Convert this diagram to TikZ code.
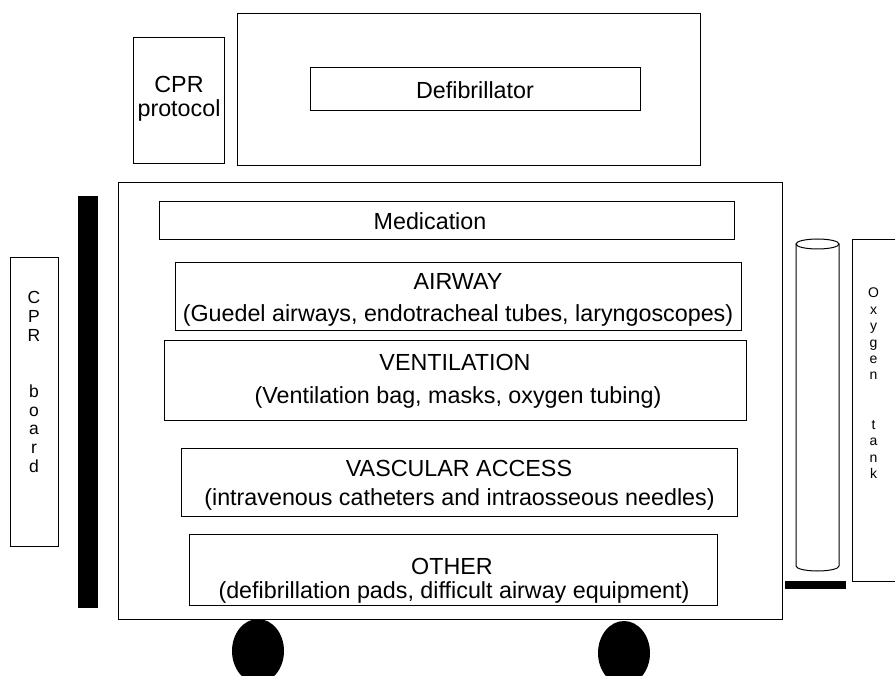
\documentclass[tikz,border=0pt]{standalone}
\usepackage{fontspec}
\setmainfont{Liberation Sans}
\usetikzlibrary{shapes.geometric}
\begin{document}
\begin{tikzpicture}[x=1pt,y=-1pt,
  box/.style={draw, line width=1pt, rectangle, inner sep=0pt},
  bar/.style={fill=black, draw=none, rectangle, inner sep=0pt},
  wheel/.style={ellipse, fill=black, draw=none, inner sep=0pt, minimum width=52pt, minimum height=64pt},
  lbl/.style={anchor=base, inner sep=0pt, font=\fontsize{23.3}{27}\selectfont},
  vlbl/.style={anchor=base, inner sep=0pt, font=\fontsize{17.5}{20}\selectfont},
  olbl/.style={anchor=base, inner sep=0pt, font=\fontsize{14}{16}\selectfont}]
\clip (0,0) rectangle (895,676);
\fill[white] (0,0) rectangle (895,676);

% top items
\node[box, minimum width=91pt, minimum height=126pt] (proto) at (178.5,101) {};
\node[lbl] (protoA) at (179,93) {CPR};
\node[lbl] (protoB) at (179,117) {protocol};
\node[box, minimum width=463pt, minimum height=152pt] (defout) at (468.5,90) {};
\node[box, minimum width=330pt, minimum height=43pt] (defib) at (475,89.5) {};
\node[lbl] (defibT) at (475,99) {Defibrillator};

% cart
\node[box, minimum width=664pt, minimum height=436pt] (cart) at (450,401) {};
\node[box, minimum width=575pt, minimum height=38pt] (med) at (446.5,221) {};
\node[lbl] (medT) at (430,230) {Medication};
\node[box, minimum width=566pt, minimum height=68pt] (air) at (458,297) {};
\node[lbl] (airA) at (458,290) {AIRWAY};
\node[lbl] (airB) at (458,322) {(Guedel airways, endotracheal tubes, laryngoscopes)};
\node[box, minimum width=582pt, minimum height=80pt] (vent) at (455,381) {};
\node[lbl] (ventA) at (455,371) {VENTILATION};
\node[lbl] (ventB) at (458,404) {(Ventilation bag, masks, oxygen tubing)};
\node[box, minimum width=556pt, minimum height=67pt] (vasc) at (459,482.5) {};
\node[lbl] (vascA) at (459,476) {VASCULAR ACCESS};
\node[lbl] (vascB) at (459.5,505) {(intravenous catheters and intraosseous needles)};
\node[box, minimum width=528pt, minimum height=71pt] (other) at (453,569.5) {};
\node[lbl] (otherA) at (452,574) {OTHER};
\node[lbl] (otherB) at (454,598) {(defibrillation pads, difficult airway equipment)};

% left side
\node[bar, minimum width=20pt, minimum height=412pt] (lbar) at (88,402) {};
\node[box, minimum width=48pt, minimum height=288pt] (board) at (34,402) {};
\foreach \c/\i in {C/0,P/1,R/2,b/5,o/6,a/7,r/8,d/9}
  \node[vlbl] (bd\i) at (34,304+\i*18.7) {\c};

% right side
\draw[line width=1pt] (796,244) -- (796,566)
  arc[start angle=180, end angle=360, x radius=21.5pt, y radius=5pt] -- (839,244);
\draw[line width=1pt] (817.5,244) ellipse [x radius=21.5pt, y radius=5pt];
\node[bar, minimum width=61pt, minimum height=8pt] (rbar) at (815.5,585) {};
\node[box, minimum width=46pt, minimum height=341pt] (oxy) at (875,410.5) {};
\foreach \c/\i in {O/0,x/1,y/2,g/3,e/4,n/5,t/8,a/9,n/10,k/11}
  \node[olbl] (ox\i) at (873.5,298+\i*16.4) {\c};

% wheels
\node[wheel] (w1) at (258,651) {};
\node[wheel] (w2) at (624,653) {};
\end{tikzpicture}
\end{document}
